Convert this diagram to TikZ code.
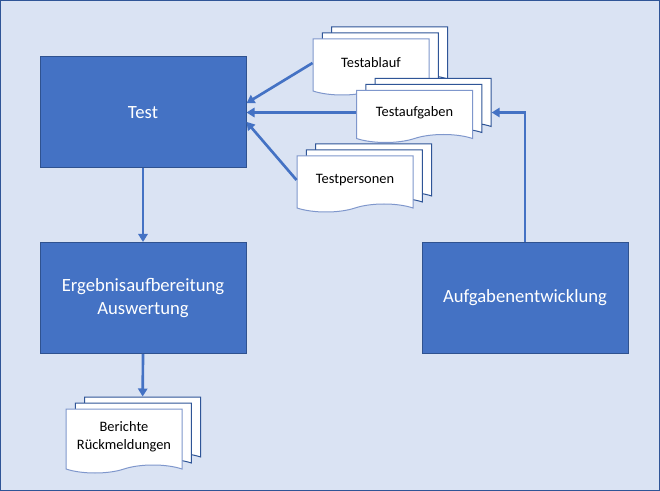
\documentclass[tikz,border=0pt]{standalone}
\usepackage{fontspec}
\setmainfont{Carlito}
\usetikzlibrary{shapes.symbols,shadows,arrows.meta}
\definecolor{bgblue}{HTML}{DAE3F3}
\definecolor{frameblue}{HTML}{2F5597}
\definecolor{boxblue}{HTML}{4472C4}
\definecolor{boxline}{HTML}{2F528F}
\definecolor{sheetline}{HTML}{7F97CC}
\tikzset{
	block/.style={draw=boxline,fill=boxblue,text=white,line width=0.75pt,minimum width=154.5pt,minimum height=83.25pt,align=center,font=\fontsize{14}{17}\selectfont},
	backsheet/.style={draw=frameblue,fill=white,line width=0.75pt},
	sheet/.style={tape,tape bend top=none,tape bend height=6pt,draw=sheetline,fill=white,line width=0.75pt,minimum width=87pt,minimum height=42pt,align=center,font=\fontsize{10.8}{13.5}\selectfont,
		copy shadow={shadow xshift=14pt,shadow yshift=9pt,backsheet},copy shadow={shadow xshift=7pt,shadow yshift=4.5pt,backsheet}},
	link/.style={->,draw=boxblue,line width=2pt}
}
\begin{document}
\begin{tikzpicture}[x=0.75pt,y=-0.75pt,>={Triangle[width=7pt,length=6pt]}]
	\useasboundingbox (0,0) rectangle (660,491);
	\draw[frameblue,fill=bgblue,line width=1pt] (0.7,0.7) rectangle (659.3,490.3);
	\node[block] (Test) at (143,112.5) {Test};
	\node[block] (Ergebnis) at (143,298) {Ergebnisaufbereitung\\Auswertung};
	\node[block] (Aufgaben) at (525,298) {Aufgabenentwicklung};
	% Dokumente
	\node[sheet] (Testablauf) at (371,63) {Testablauf};
	\node[sheet,minimum height=39pt] (Testaufgaben) at (414.5,112.5) {Testaufgaben};
	\node[sheet] (Testpersonen) at (355,180) {Testpersonen};
	\node[sheet,minimum height=48pt] (Berichte) at (124,437) {Berichte\\Rückmeldungen};
	% Pfeile
	\draw[link] (Test.south) -- (Ergebnis.north);
	\draw[link] (Ergebnis.south) -- ([xshift=14pt,yshift=9pt]Berichte.north);
	\draw[link] (Testablauf.west) -- ([yshift=7pt]Test.east);
	\draw[link] (Testaufgaben.west) -- (Test.east);
	\draw[link] (Testpersonen.west) -- ([yshift=-7pt]Test.east);
	\draw[link] (Aufgaben.north) |- ([xshift=14pt]Testaufgaben.east);
\end{tikzpicture}
\end{document}
